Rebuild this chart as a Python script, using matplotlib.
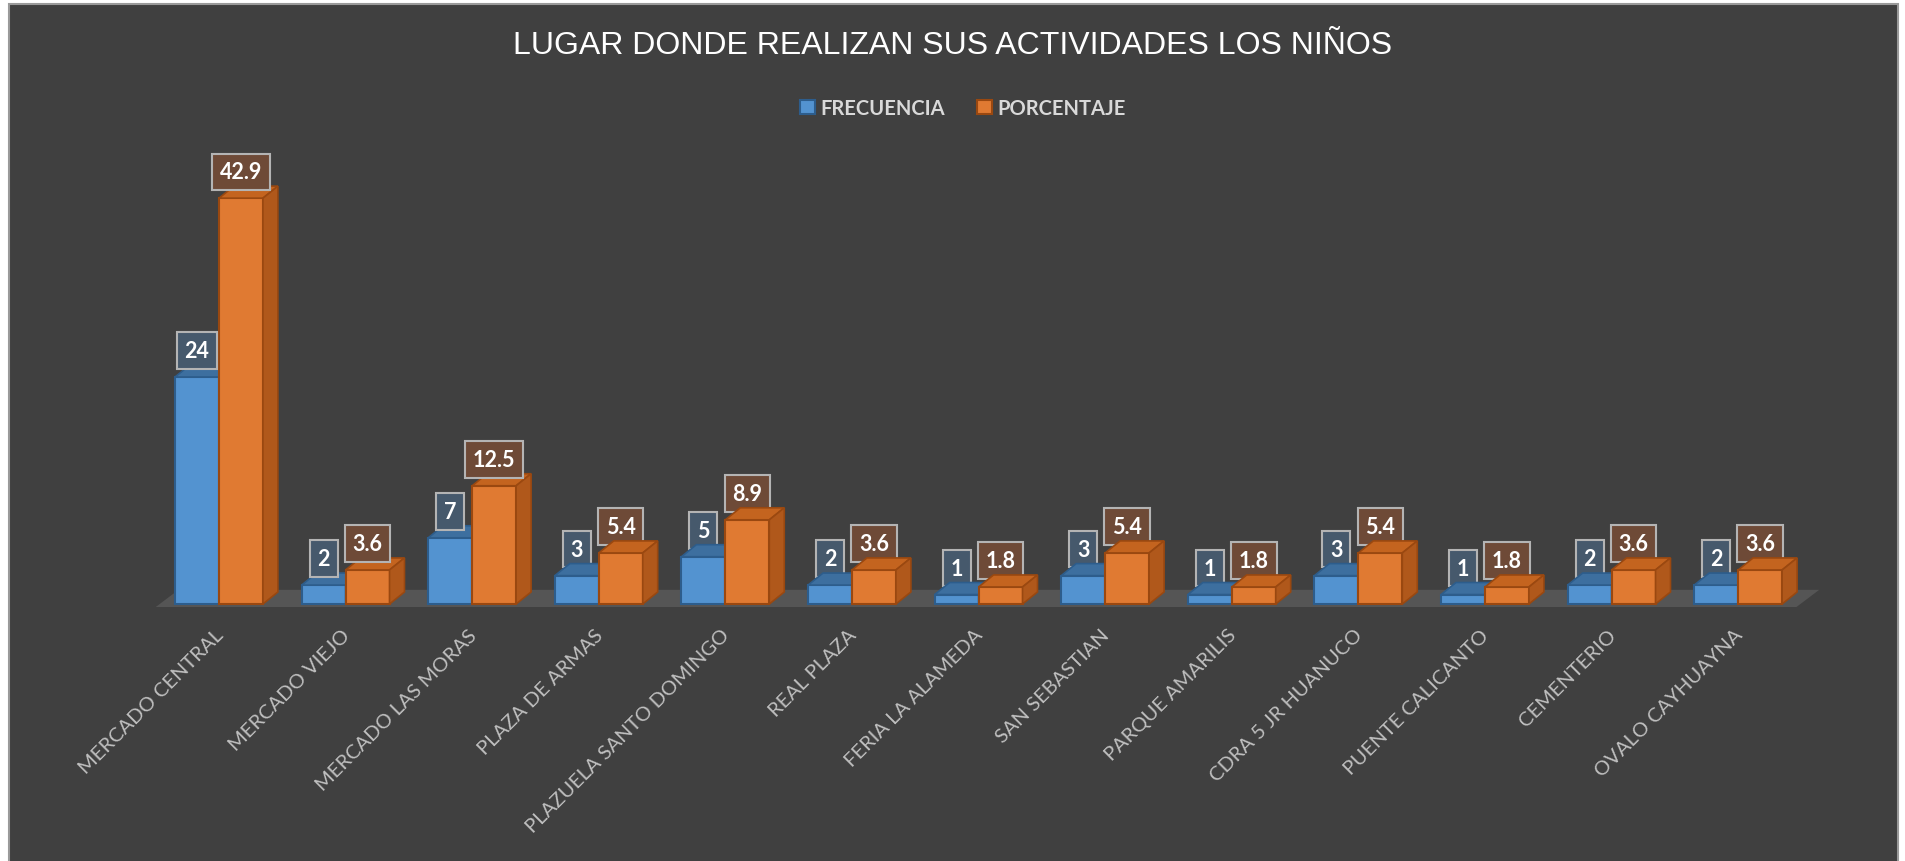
import matplotlib
matplotlib.use("Agg")
import matplotlib.pyplot as plt
from matplotlib.patches import Polygon, Rectangle, Patch

categories = ["MERCADO CENTRAL", "MERCADO VIEJO", "MERCADO LAS MORAS", "PLAZA DE ARMAS",
              "PLAZUELA SANTO DOMINGO", "REAL PLAZA", "FERIA LA ALAMEDA", "SAN SEBASTIAN",
              "PARQUE AMARILIS", "CDRA 5 JR HUANUCO", "PUENTE CALICANTO", "CEMENTERIO",
              "OVALO CAYHUAYNA"]
frecuencia = [24, 2, 7, 3, 5, 2, 1, 3, 1, 3, 1, 2, 2]
porcentaje = [42.9, 3.6, 12.5, 5.4, 8.9, 3.6, 1.8, 5.4, 1.8, 5.4, 1.8, 3.6, 3.6]
series_names = ["FRECUENCIA", "PORCENTAJE"]
title = "LUGAR DONDE REALIZAN SUS ACTIVIDADES LOS NIÑOS"

# colours: front, top, side, edge, label box
blue = ["#5393d0", "#3d6f9f", "#3a6796", "#2d5d8c", "#46596c"]
orange = ["#e07a32", "#c4641f", "#b0581b", "#9a4810", "#6e4a37"]

W, H = 1906, 862
fig = plt.figure(figsize=(W / 100, H / 100), dpi=100, facecolor="white")

# chart area frame
fig.patches.append(Rectangle((9 / W, -0.01), (1898 - 9) / W, 1 - 5 / H + 0.01,
                             transform=fig.transFigure, facecolor="#404040",
                             edgecolor="#9a9a9a", linewidth=1.5, zorder=-10))

ax = fig.add_axes([0.04848, 0.24327, 0.92991, 0.60360])
ax.set_xlim(-1, 13)
ax.set_ylim(-5, 50)
ax.axis("off")

bw = 0.347   # bar width in category units
dx = 0.118   # depth offset x
dy = 1.27    # depth offset y

n = len(categories)
# floor
floor = Polygon([(-0.5, -0.32), (n - 0.54, -0.32), (n - 0.54 + 0.18, 1.5), (-0.5 + 0.18, 1.5)],
                closed=True, facecolor="#555555", edgecolor="none", zorder=1)
ax.add_patch(floor)


def bar3d(x0, v, c, z):
    ax.add_patch(Rectangle((x0, 0), bw, v, facecolor=c[0], edgecolor=c[3], linewidth=1.5, zorder=z))
    ax.add_patch(Polygon([(x0, v), (x0 + bw, v), (x0 + bw + dx, v + dy), (x0 + dx, v + dy)],
                         closed=True, facecolor=c[1], edgecolor=c[3], linewidth=1.2, zorder=z))
    ax.add_patch(Polygon([(x0 + bw, 0), (x0 + bw + dx, dy), (x0 + bw + dx, v + dy), (x0 + bw, v)],
                         closed=True, facecolor=c[2], edgecolor=c[3], linewidth=1.2, zorder=z))


def value_label(x, v, txt, fc):
    ax.annotate(txt, xy=(x, v), xytext=(0, 19), textcoords="offset points",
                ha="center", va="center", color="white", fontsize=15.5,
                fontweight="bold", family="Lato", zorder=10,
                bbox=dict(boxstyle="square,pad=0.36", facecolor=fc,
                          edgecolor="#b4b4b4", linewidth=1.5))


for i in range(n):
    bar3d(i - bw, frecuencia[i], blue, 2 + 3 * i)
    bar3d(i, porcentaje[i], orange, 3 + 3 * i)
    value_label(i - bw / 2, frecuencia[i], str(frecuencia[i]), blue[4])
    value_label(i + bw / 2, porcentaje[i], str(porcentaje[i]), orange[4])
    ax.annotate(categories[i], xy=(i, 0), xytext=(1, -20), textcoords="offset points",
                rotation=45, rotation_mode="anchor", ha="right", va="center",
                color="#bfbfbf", fontsize=14.5, family="Lato", annotation_clip=False)

fig.text(0.5, 1 - 46 / H, title, ha="center", va="center", color="white",
         fontsize=23, family="Liberation Sans")

handles = [Patch(facecolor=blue[0], edgecolor=blue[3], linewidth=1.5),
           Patch(facecolor=orange[0], edgecolor=orange[3], linewidth=1.5)]
leg = fig.legend(handles, series_names, loc="center", bbox_to_anchor=(0.505, 1 - 109 / H),
                 ncol=2, frameon=False, handlelength=0.75, handleheight=0.75,
                 handletextpad=0.25, columnspacing=1.6,
                 prop={"family": "Lato", "weight": "bold", "size": 14.5})
for t in leg.get_texts():
    t.set_color("#d9d9d9")

fig.savefig("out.png", dpi=100, facecolor=fig.get_facecolor())
